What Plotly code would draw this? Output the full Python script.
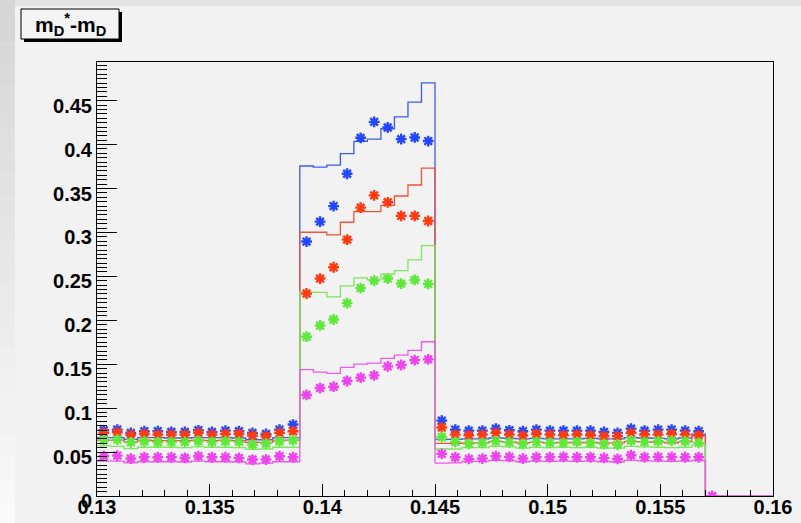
import plotly.graph_objects as go

# ---------------- data (histogram definition + read-off values) ----------------
x_min = 0.13
bin_width = 0.0006
n_bins = 50          # 0.13 .. 0.16

blue_line = [0.0665, 0.0665, 0.0645, 0.0665, 0.0665, 0.066, 0.066, 0.0665, 0.0665, 0.0665, 0.066, 0.064, 0.064, 0.0665, 0.0665,
             0.3756, 0.3744, 0.3767, 0.3896, 0.4036, 0.4062, 0.418, 0.4316, 0.4483, 0.4703,
             0.0645, 0.0645, 0.065, 0.065, 0.066, 0.0655, 0.065, 0.0655, 0.065, 0.065, 0.065, 0.0655, 0.065, 0.065, 0.0665, 0.066, 0.0655, 0.065, 0.066, 0.0705]
red_line = [0.0635, 0.0635, 0.0615, 0.0635, 0.063, 0.063, 0.063, 0.0635, 0.063, 0.0635, 0.063, 0.061, 0.061, 0.0635, 0.0635,
            0.3002, 0.3002, 0.2972, 0.3116, 0.3237, 0.3237, 0.3309, 0.3415, 0.354, 0.3733,
            0.060, 0.060, 0.0605, 0.0605, 0.062, 0.0615, 0.0605, 0.061, 0.0605, 0.061, 0.0605, 0.061, 0.0605, 0.0605, 0.062, 0.0615, 0.061, 0.0605, 0.0615, 0.0685]
green_line = [0.057, 0.0565, 0.054, 0.0555, 0.0555, 0.0555, 0.055, 0.056, 0.0555, 0.0555, 0.055, 0.053, 0.0535, 0.0555, 0.0555,
              0.232, 0.2318, 0.2267, 0.2392, 0.2483, 0.246, 0.2528, 0.2566, 0.2688, 0.285,
              0.0535, 0.0535, 0.055, 0.055, 0.0565, 0.056, 0.0545, 0.0555, 0.055, 0.0555, 0.055, 0.0555, 0.0545, 0.0545, 0.0565, 0.056, 0.0555, 0.055, 0.0555, 0.058]
magenta_line = [0.0397, 0.0397, 0.0378, 0.039, 0.039, 0.039, 0.0387, 0.0397, 0.039, 0.039, 0.0387, 0.0366, 0.0375, 0.039, 0.039,
                0.1438, 0.1411, 0.1396, 0.1464, 0.1502, 0.1513, 0.1566, 0.1604, 0.1657, 0.1756,
                0.0375, 0.0378, 0.0395, 0.0395, 0.0405, 0.040, 0.039, 0.0398, 0.0395, 0.0398, 0.0395, 0.0398, 0.039, 0.039, 0.0405, 0.040, 0.0398, 0.0395, 0.0398, 0.0405]

blue_pts = [0.0748, 0.0756, 0.0718, 0.0737, 0.0737, 0.0729, 0.0729, 0.0748, 0.0729, 0.0744, 0.0737, 0.0718, 0.0706, 0.0756, 0.0813,
            0.2896, 0.3123, 0.330, 0.3668, 0.4077, 0.4259, 0.4195, 0.4062, 0.4081, 0.404,
            0.0858, 0.0756, 0.0744, 0.0744, 0.0767, 0.0748, 0.0737, 0.0756, 0.0744, 0.0744, 0.0744, 0.0744, 0.0729, 0.0718, 0.0767, 0.0744, 0.0756, 0.0756, 0.0744, 0.0737]
red_pts = [0.0718, 0.0725, 0.0695, 0.0706, 0.0699, 0.0699, 0.0699, 0.0718, 0.0699, 0.0706, 0.0706, 0.0688, 0.068, 0.0718, 0.0737,
           0.2305, 0.2475, 0.2604, 0.2918, 0.3282, 0.3422, 0.3343, 0.3188, 0.3188, 0.313,
           0.078, 0.0699, 0.0691, 0.0699, 0.0718, 0.0699, 0.0687, 0.0706, 0.0699, 0.0691, 0.0699, 0.0691, 0.068, 0.068, 0.0718, 0.0699, 0.0699, 0.0706, 0.0699, 0.0691]
green_pts = [0.0634, 0.0642, 0.0612, 0.0623, 0.0612, 0.0616, 0.0616, 0.0623, 0.0616, 0.0623, 0.0616, 0.0585, 0.0597, 0.0623, 0.0634,
             0.1813, 0.1941, 0.2009, 0.2195, 0.2366, 0.2452, 0.2475, 0.2418, 0.246, 0.2415,
             0.0672, 0.0616, 0.0593, 0.0604, 0.0623, 0.0612, 0.0593, 0.0616, 0.0604, 0.0604, 0.0616, 0.0604, 0.0593, 0.0585, 0.063, 0.0616, 0.0623, 0.063, 0.0623, 0.0604]
magenta_pts = [0.0453, 0.046, 0.0426, 0.0441, 0.0441, 0.0441, 0.0434, 0.0453, 0.0441, 0.0441, 0.0434, 0.0415, 0.0415, 0.0453, 0.0441,
               0.115, 0.1229, 0.1244, 0.1309, 0.1347, 0.1373, 0.1475, 0.1491, 0.1547, 0.1555,
               0.0479, 0.0441, 0.0422, 0.0426, 0.0453, 0.0445, 0.0426, 0.0441, 0.0441, 0.0445, 0.0441, 0.0441, 0.0434, 0.0422, 0.0464, 0.0441, 0.0445, 0.0445, 0.0441, 0.0441,
               0.0]

x_ticks = [0.13, 0.135, 0.14, 0.145, 0.15, 0.155, 0.16]
x_tick_labels = ["0.13", "0.135", "0.14", "0.145", "0.15", "0.155", "0.16"]
y_ticks = [0, 0.05, 0.1, 0.15, 0.2, 0.25, 0.3, 0.35, 0.4, 0.45]
y_tick_labels = ["0", "0.05", "0.1", "0.15", "0.2", "0.25", "0.3", "0.35", "0.4", "0.45"]

title_text = "m<sub>D</sub><sup>*</sup>-m<sub>D</sub>"

series = [
    (blue_line, blue_pts, "#3a5cf5", "#2347ff"),
    (red_line, red_pts, "#f2553a", "#ff3a10"),
    (green_line, green_pts, "#7ae85a", "#5ee83a"),
    (magenta_line, magenta_pts, "#ee5aee", "#ee44ee"),
]

# ---------------- figure ----------------
edges = [x_min + i * bin_width for i in range(n_bins + 1)]
centers = [x_min + (i + 0.5) * bin_width for i in range(n_bins)]

fig = go.Figure()
for line_vals, pts, lc, mc in series:
    vals = line_vals + [0.0] * (n_bins - len(line_vals))
    fig.add_trace(go.Scatter(x=edges, y=vals + [vals[-1]], mode="lines",
                             line=dict(color=lc, width=1.3, shape="hv"),
                             hoverinfo="skip", showlegend=False))
for line_vals, pts, lc, mc in series:
    fig.add_trace(go.Scatter(x=centers[:len(pts)], y=pts, mode="markers",
                             marker=dict(symbol="asterisk-open", size=9, color=mc,
                                         line=dict(color=mc, width=2.4)),
                             showlegend=False))

W, H = 801, 523
L, R, T, B = 97, 773, 62, 496


def px(x):
    return (x - L) / (R - L)


def py(y):
    return (B - y) / (B - T)


shapes = []
# canvas edge shading (top and left)
shapes.append(dict(type="rect", xref="paper", yref="paper", x0=px(0), x1=px(W), y0=py(6), y1=py(0),
                   fillcolor="#e3e3e3", line=dict(width=0), layer="below"))
n = 24
for i in range(n):
    g = int(214 + (250 - 214) * i / (n - 1))
    shapes.append(dict(type="rect", xref="paper", yref="paper", x0=px(0), x1=px(15),
                       y0=py(H * (i + 1) / n), y1=py(H * i / n),
                       fillcolor="rgb(%d,%d,%d)" % (g, g, g), line=dict(width=0), layer="below"))
# title box with shadow
shapes.append(dict(type="rect", xref="paper", yref="paper", x0=px(24), x1=px(122), y0=py(42), y1=py(12),
                   fillcolor="#000000", line=dict(width=0)))
shapes.append(dict(type="rect", xref="paper", yref="paper", x0=px(21), x1=px(119), y0=py(39), y1=py(9),
                   fillcolor="#f4f4f4", line=dict(color="#000000", width=1)))

tick_font = dict(family="Liberation Sans", size=20, color="black", weight="bold")

fig.update_layout(
    width=W, height=H, autosize=False,
    margin=dict(l=L, r=W - R, t=T, b=H - B, pad=0),
    paper_bgcolor="#f2f2f2", plot_bgcolor="#f2f2f2",
    shapes=shapes,
    annotations=[dict(text=title_text, xref="paper", yref="paper", x=px(70), y=py(24),
                      xanchor="center", yanchor="middle", showarrow=False,
                      font=dict(family="Liberation Sans", size=21, color="black", weight="bold"))],
    xaxis=dict(range=[0.13, 0.16], tickvals=x_ticks, ticktext=x_tick_labels, automargin=False,
               ticks="inside", ticklen=12, tickwidth=1, tickcolor="black", ticklabelstandoff=-7,
               minor=dict(dtick=0.001, tick0=0.13, ticks="inside", ticklen=6, tickwidth=1, tickcolor="black"),
               showgrid=False, zeroline=False, showline=True, mirror=True, linecolor="black", linewidth=1,
               tickfont=tick_font),
    yaxis=dict(range=[0, 0.494], tickvals=y_ticks, ticktext=y_tick_labels, automargin=False,
               ticks="inside", ticklen=20, tickwidth=1, tickcolor="black", ticklabelshift=5,
               minor=dict(dtick=0.005, tick0=0, ticks="inside", ticklen=10, tickwidth=1, tickcolor="black"),
               showgrid=False, zeroline=False, showline=True, mirror=True, linecolor="black", linewidth=1,
               tickfont=tick_font),
)

fig.write_html("out.html")
